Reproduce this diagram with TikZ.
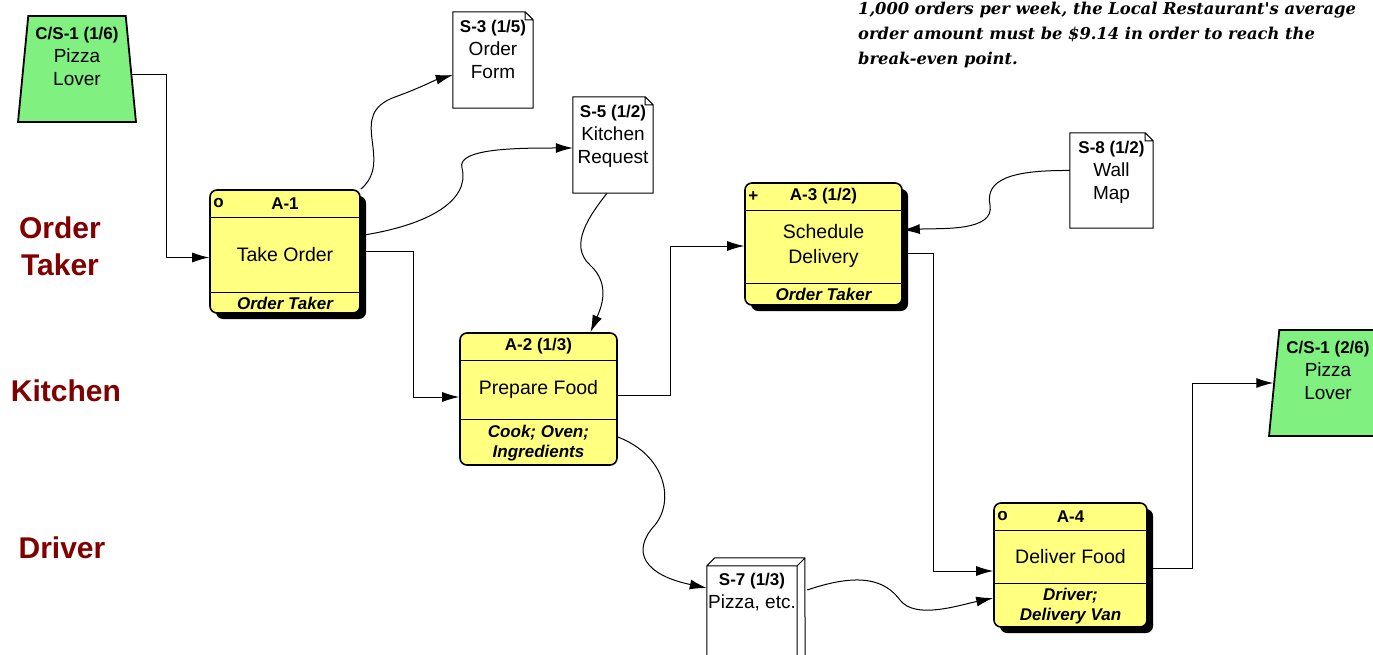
\documentclass[tikz,border=0pt]{standalone}
\usepackage{fontspec}
\setmainfont{Liberation Sans}
\newfontfamily\notefont{DejaVu Serif}
\usetikzlibrary{positioning,shapes.geometric,shadows,arrows.meta}
\definecolor{actyellow}{RGB}{255,255,128}
\definecolor{clientgreen}{RGB}{128,240,128}
\definecolor{lanered}{RGB}{128,0,0}
\tikzset{
  act/.style = {rectangle, draw=black, line width=1.6pt, rounded corners=7pt, fill=actyellow},
  actsh/.style = {act, drop shadow={shadow xshift=6pt, shadow yshift=-6pt, fill=black, opacity=1}},
  sep/.style = {line width=1.3pt},
  acthead/.style = {font=\bfseries\fontsize{17}{20}\selectfont, inner sep=0pt},
  actmark/.style = {acthead, anchor=west},
  acttext/.style = {font=\fontsize{19.5}{25}\selectfont, align=center, inner sep=0pt},
  actfoot/.style = {font=\bfseries\itshape\fontsize{17}{20}\selectfont, align=center, inner sep=0pt},
  docbox/.style = {rectangle, fill=white, minimum width=80pt, minimum height=96pt, inner sep=0pt},
  doctext/.style = {font=\fontsize{19}{23}\selectfont, align=center, inner sep=0pt},
  client/.style = {trapezium, trapezium left angle=84, trapezium right angle=84, trapezium stretches=true,
    minimum width=118pt, minimum height=106pt, draw=black, line width=1.8pt, fill=clientgreen},
  lane/.style = {font=\bfseries\fontsize{30}{37}\selectfont, text=lanered, align=center},
  conn/.style = {line width=1pt, -{Latex[length=17pt,width=10pt]}},
  note/.style = {font=\notefont\bfseries\itshape\fontsize{16.3}{25}\selectfont, align=left, inner sep=0pt},
}

\begin{document}
\begin{tikzpicture}[x=1pt,y=-1pt]
\path[use as bounding box, fill=white] (0,0) rectangle (1373,655);
\clip (0,0) rectangle (1373,655);

\node[lane] (lot) at (60,246) {Order\\Taker};
\node[lane] (lk) at (66,391) {Kitchen};
\node[lane] (ld) at (62,548) {Driver};

\node[note, anchor=north west] (note) at (858,2) {1,000 orders per week, the Local Restaurant's average\\
  order amount must be \$9.14 in order to reach the\\break-even point.};

\node[client] (CSa) at (77,69) {};
\node[doctext, below=12pt of CSa.north] (CSat) {{\bfseries\fontsize{17}{22}\selectfont C/S-1 (1/6)}\\Pizza\\Lover};
\node[client] (CSb) at (1328,383) {};
\node[doctext, below=12pt of CSb.north] (CSbt) {{\bfseries\fontsize{17}{22}\selectfont C/S-1 (2/6)}\\Pizza\\Lover};

\node[docbox] (S3) at (493,60) {};
\node[docbox] (S5) at (613,145) {};
\node[docbox, minimum width=83pt, minimum height=95pt] (S8) at (1111.5,180.5) {};
\foreach \d in {S3,S5,S8}
  \draw[line width=1pt] (\d.north west) -- ([xshift=-8pt]\d.north east) -- ([yshift=-8pt]\d.north east)
    -- (\d.south east) -- (\d.south west) -- cycle
    ([xshift=-8pt]\d.north east) -- ([xshift=-8pt,yshift=-8pt]\d.north east) -- ([yshift=-8pt]\d.north east);
\node[doctext, below=8pt of S3.north] (S3t) {{\bfseries\fontsize{17}{22}\selectfont S-3 (1/5)}\\Order\\Form};
\node[doctext, below=8pt of S5.north] (S5t) {{\bfseries\fontsize{17}{22}\selectfont S-5 (1/2)}\\Kitchen\\Request};
\node[doctext, below=8pt of S8.north] (S8t) {{\bfseries\fontsize{17}{22}\selectfont S-8 (1/2)}\\Wall\\Map};

\node[docbox, minimum width=90pt, minimum height=124pt] (S7) at (752,628) {};
\draw[line width=1pt] (S7.south west) -- (S7.north west) -- ++(8,-8) -- ++(90,0)
  -- ([shift={(8pt,8pt)}]S7.south east) -- (S7.south east) -- cycle
  (S7.north west) -- (S7.north east) -- ++(8,-8) (S7.north east) -- (S7.south east);
\node[doctext, below=7pt of S7.north] (S7t) {{\bfseries\fontsize{17}{22}\selectfont S-7 (1/3)}\\Pizza, etc.};

\node[actsh, minimum width=150pt, minimum height=123pt] (A1) at (285,251.5) {};
\node[act, minimum width=157pt, minimum height=132pt] (A2) at (538.5,399) {};
\node[actsh, minimum width=157pt, minimum height=122pt] (A3) at (823.5,244) {};
\node[actsh, minimum width=153pt, minimum height=124pt] (A4) at (1070.5,565) {};
\foreach \n/\f in {A1/21,A2/46,A3/22,A4/44} {
  \draw[sep] ([yshift=-28pt]\n.north west) -- ([yshift=-28pt]\n.north east);
  \draw[sep] ([yshift=\f pt]\n.south west) -- ([yshift=\f pt]\n.south east);
}
\node[acthead] (A1h) at ([yshift=-14pt]A1.north) {A-1};
\node[actmark] (A1m) at ([xshift=4pt,yshift=-14pt]A1.north west) {o};
\node[acttext] (A1t) at ([yshift=-65pt]A1.north) {Take Order};
\node[actfoot] (A1f) at ([yshift=10.5pt]A1.south) {Order Taker};

\node[acthead] (A2h) at ([yshift=-14pt]A2.north) {A-2 (1/3)};
\node[acttext] (A2t) at ([yshift=-57pt]A2.north) {Prepare Food};
\node[actfoot] (A2f) at ([yshift=23pt]A2.south) {Cook; Oven;\\Ingredients};

\node[acthead] (A3h) at ([yshift=-14pt]A3.north) {A-3 (1/2)};
\node[actmark] (A3m) at ([xshift=4pt,yshift=-14pt]A3.north west) {+};
\node[acttext] (A3t) at ([yshift=-64pt]A3.north) {Schedule\\Delivery};
\node[actfoot] (A3f) at ([yshift=11pt]A3.south) {Order Taker};

\node[acthead] (A4h) at ([yshift=-14pt]A4.north) {A-4};
\node[actmark] (A4m) at ([xshift=4pt,yshift=-14pt]A4.north west) {o};
\node[acttext] (A4t) at ([yshift=-54pt]A4.north) {Deliver Food};
\node[actfoot] (A4f) at ([yshift=22pt]A4.south) {Driver;\\Delivery Van};

\draw[conn] ([yshift=-6pt]CSa.east) -- ++(35,0) |- ([yshift=-6pt]A1.west);
\draw[conn] (A1.north east) .. controls (395,160) and (345,115) .. (395,97) .. controls (420,88) and (435,80) .. ([yshift=-15pt]S3.west);
\draw[conn] ([yshift=16pt]A1.east) .. controls (430,225) and (470,200) .. (462,168) .. controls (456,148) and (520,148) .. ([yshift=-3pt]S5.west);
\draw[conn] (A1.east) -- ++(53,0) |- ([yshift=2pt]A2.west);
\draw[conn] ([xshift=-6pt]S5.south) .. controls (590,215) and (568,245) .. (590,265) .. controls (612,285) and (600,310) .. ([xshift=52pt]A2.north);
\draw[conn] ([yshift=4pt]A2.east) -- ++(53,0) |- ([yshift=-2pt]A3.west);
\draw[conn] ([yshift=10pt]S8.west) .. controls (1010,170) and (985,180) .. (990,205) .. controls (995,232) and (940,228) .. ([yshift=14pt]A3.east);
\draw[conn] ([yshift=-9pt]A3.east) -- ++(31,0) |- ([yshift=-6pt]A4.west);
\draw[conn] ([yshift=-38pt]A2.east) .. controls (665,455) and (675,500) .. (655,525) .. controls (630,552) and (645,575) .. ([yshift=40pt]S7.west);
\draw[conn] ([shift={(10pt,38pt)}]S7.east) .. controls (860,572) and (885,580) .. (900,600) .. controls (915,620) and (960,605) .. ([yshift=-33pt]A4.west);
\draw[conn] ([yshift=-3pt]A4.east) -- ++(45,0) |- (CSb.west);
\end{tikzpicture}
\end{document}
